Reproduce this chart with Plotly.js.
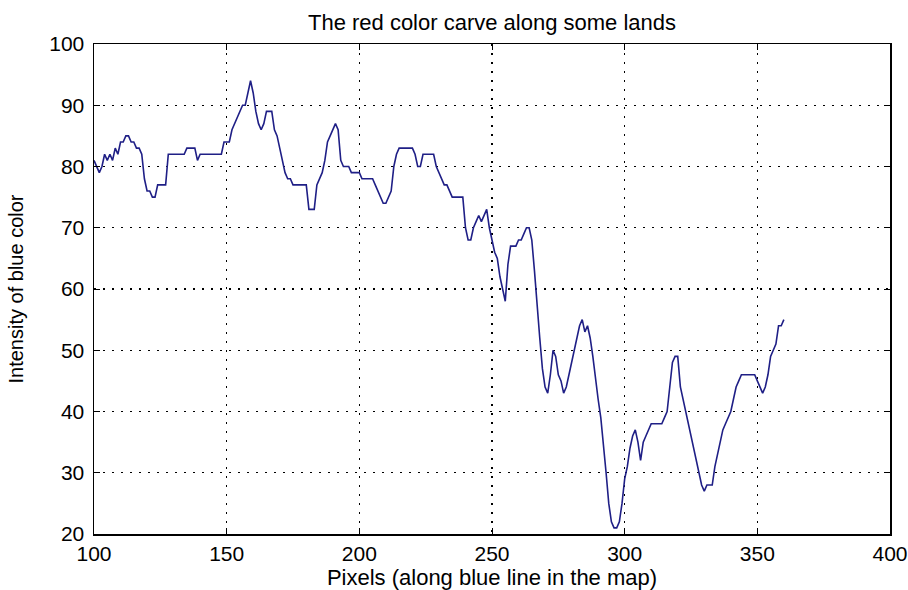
<!DOCTYPE html>
<html>
<head>
<meta charset="utf-8">
<script src="https://cdn.plot.ly/plotly-3.0.1.min.js"></script>
<style>
  html, body { margin: 0; padding: 0; background: #ffffff; }
  #chart { width: 908px; height: 590px; }
</style>
</head>
<body>
<div id="chart"></div>
<script>
// Blue-channel intensity sampled along a line across the map, one value per pixel.
const firstPixel = 100;
const intensity = [
  81, 80, 79, 80, 82, 81, 82, 81, 83, 82,   // 100-109
  84, 84, 85, 85, 84, 84, 83, 83, 82, 78,   // 110-119
  76, 76, 75, 75, 77, 77, 77, 77, 82, 82,   // 120-129
  82, 82, 82, 82, 82, 83, 83, 83, 83, 81,   // 130-139
  82, 82, 82, 82, 82, 82, 82, 82, 82, 84,   // 140-149
  84, 84, 86, 87, 88, 89, 90, 90, 92, 94,   // 150-159
  92, 89, 87, 86, 87, 89, 89, 89, 86, 85,   // 160-169
  83, 81, 79, 78, 78, 77, 77, 77, 77, 77,   // 170-179
  77, 73, 73, 73, 77, 78, 79, 81, 84, 85,   // 180-189
  86, 87, 86, 81, 80, 80, 80, 79, 79, 79,   // 190-199
  79, 78, 78, 78, 78, 78, 77, 76, 75, 74,   // 200-209
  74, 75, 76, 80, 82, 83, 83, 83, 83, 83,   // 210-219
  83, 82, 80, 80, 82, 82, 82, 82, 82, 80,   // 220-229
  79, 78, 77, 77, 76, 75, 75, 75, 75, 75,   // 230-239
  70, 68, 68, 70, 71, 72, 71, 72, 73, 70,   // 240-249
  68, 66, 65, 62, 60, 58, 64, 67, 67, 67,   // 250-259
  68, 68, 69, 70, 70, 68, 63, 57, 52, 47,   // 260-269
  44, 43, 46, 50, 49, 46, 45, 43, 44, 46,   // 270-279
  48, 50, 52, 54, 55, 53, 54, 52, 49, 45,   // 280-289
  42, 39, 35, 30, 25, 22, 21, 21, 22, 25,   // 290-299
  29, 31, 34, 36, 37, 35, 32, 35, 36, 37,   // 300-309
  38, 38, 38, 38, 38, 39, 40, 44, 48, 49,   // 310-319
  49, 44, 42, 40, 38, 36, 34, 32, 30, 28,   // 320-329
  27, 28, 28, 28, 31, 33, 35, 37, 38, 39,   // 330-339
  40, 42, 44, 45, 46, 46, 46, 46, 46, 46,   // 340-349
  45, 44, 43, 44, 46, 49, 50, 51, 54, 54,   // 350-359
  55                                        // 360
];
const pixels = intensity.map((_, i) => firstPixel + i);

const xTicks = [100, 150, 200, 250, 300, 350, 400];
const yTicks = [20, 30, 40, 50, 60, 70, 80, 90, 100];

const chartTitle = 'The red color carve along some lands';
const xLabel = 'Pixels (along blue line in the map)';
const yLabel = 'Intensity of blue color';

const font = 'Liberation Sans, Arial, sans-serif';

const trace = {
  x: pixels,
  y: intensity,
  type: 'scatter',
  mode: 'lines',
  line: { color: '#1f1f86', width: 1.6 },
  hoverinfo: 'x+y'
};

const axisCommon = {
  showline: true,
  linecolor: '#000000',
  linewidth: 1.5,
  mirror: 'allticks',
  ticks: 'inside',
  ticklen: 6,
  tickwidth: 1,
  tickcolor: '#000000',
  showgrid: true,
  gridcolor: '#000000',
  gridwidth: 1.3,
  griddash: '2px,7px',
  zeroline: false,
  tickfont: { family: font, size: 21, color: '#000000' }
};

const layout = {
  width: 908,
  height: 590,
  paper_bgcolor: '#ffffff',
  plot_bgcolor: '#ffffff',
  margin: { l: 94, r: 18, t: 44, b: 56 },
  showlegend: false,
  title: {
    text: chartTitle,
    font: { family: font, size: 22, color: '#000000' },
    xref: 'paper', x: 0.5, xanchor: 'center',
    yref: 'container', y: 1 - 22 / 590, yanchor: 'middle'
  },
  xaxis: Object.assign({}, axisCommon, {
    range: [100, 400],
    tickvals: xTicks,
    ticktext: xTicks.map(String),
    ticklabelstandoff: 0,
    title: { text: xLabel, font: { family: font, size: 22, color: '#000000' }, standoff: 4 }
  }),
  yaxis: Object.assign({}, axisCommon, {
    range: [20, 100],
    tickvals: yTicks,
    ticktext: yTicks.map(String),
    ticklabelstandoff: 4,
    automargin: false,
    title: { text: yLabel, font: { family: font, size: 20, color: '#000000' }, standoff: 20 }
  })
};

Plotly.newPlot('chart', [trace], layout, { displayModeBar: false, staticPlot: true });
</script>
</body>
</html>
